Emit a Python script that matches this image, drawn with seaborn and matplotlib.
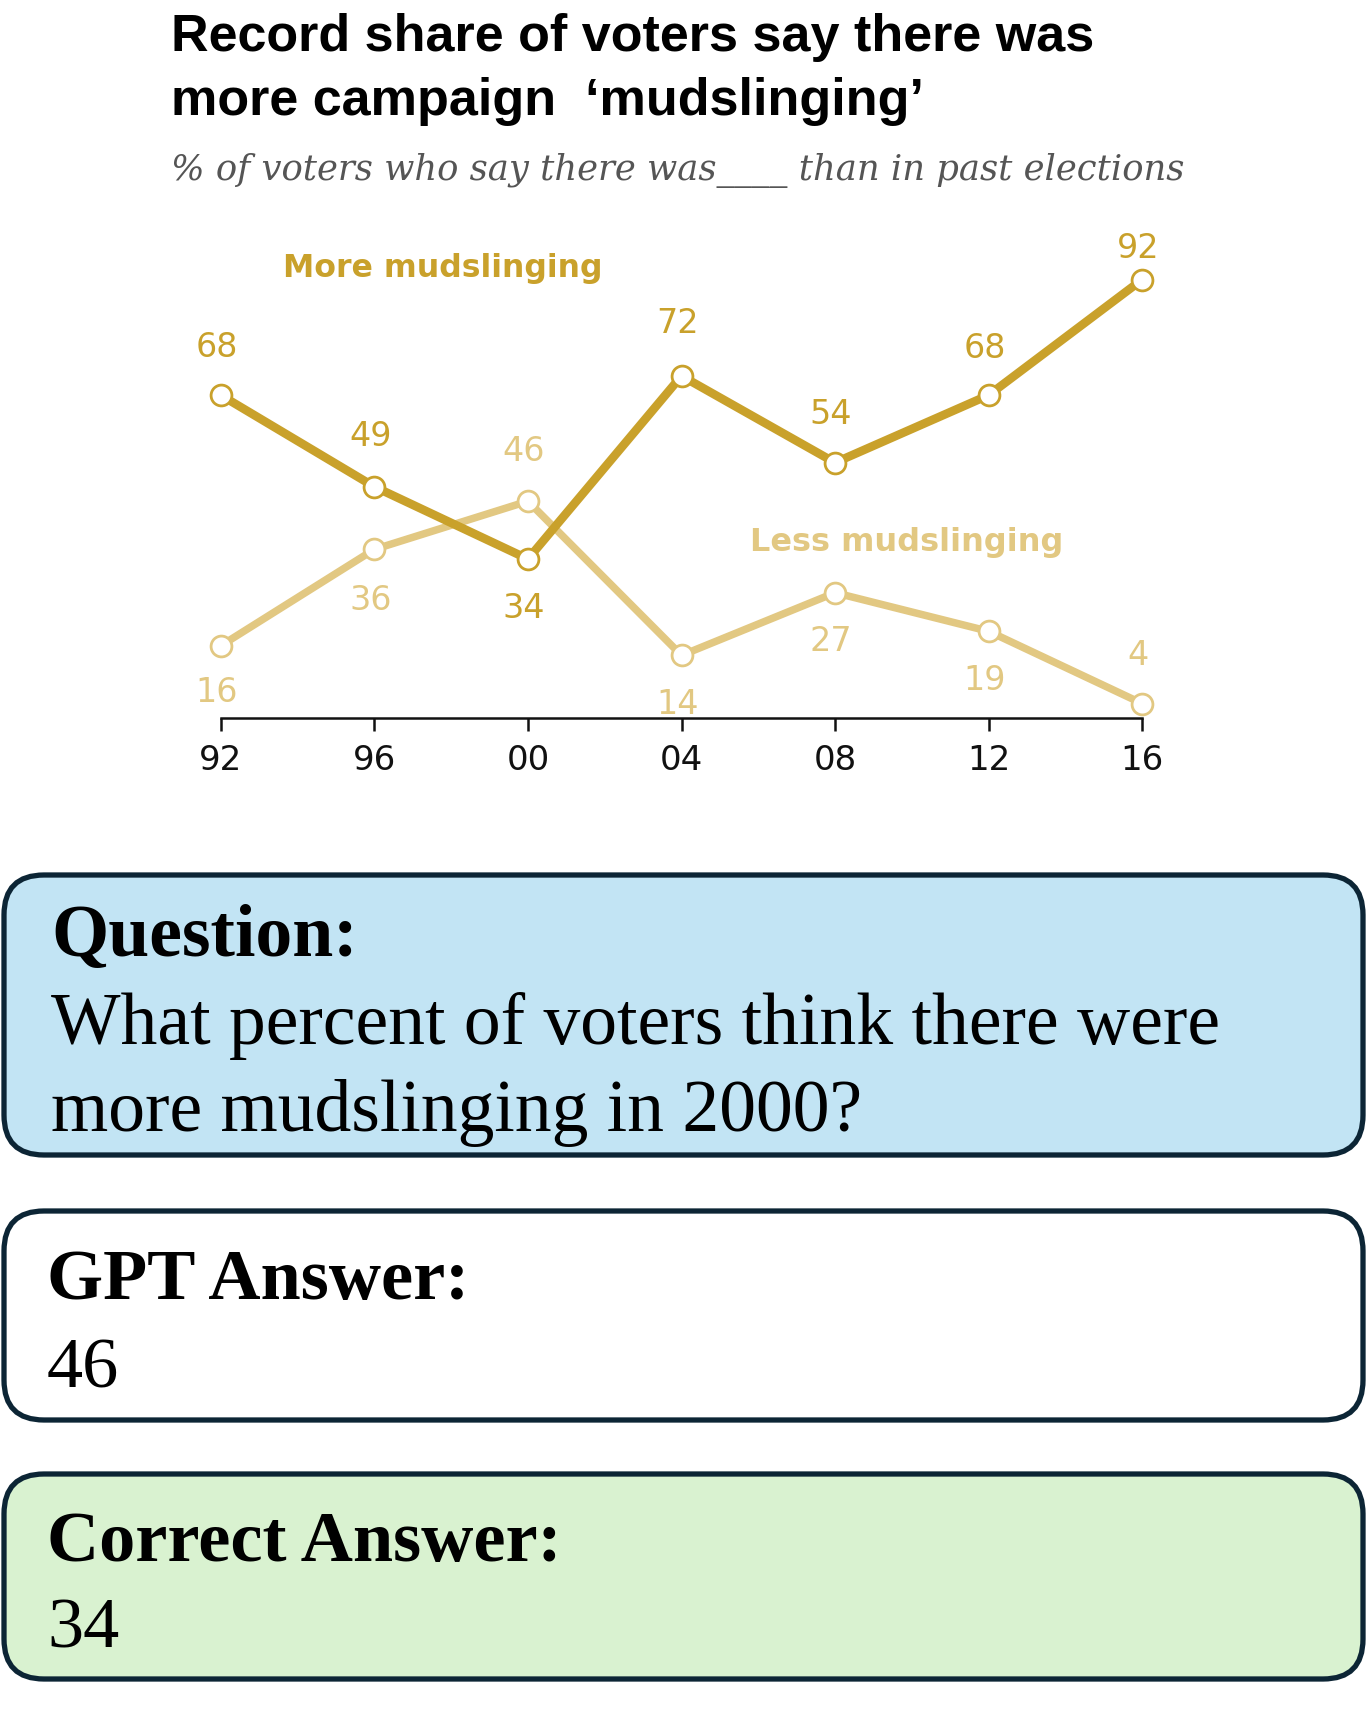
import numpy as np
import pandas as pd
import matplotlib
matplotlib.use("Agg")
import matplotlib.pyplot as plt
import seaborn as sns
from matplotlib.patches import FancyBboxPatch

# chart data
years = [1992, 1996, 2000, 2004, 2008, 2012, 2016]
year_labels = ["92", "96", "00", "04", "08", "12", "16"]
more_mud = [68, 49, 34, 72, 54, 68, 92]
less_mud = [16, 36, 46, 14, 27, 19, 4]

title_lines = ["Record share of voters say there was", "more campaign  \u2018mudslinging\u2019"]
subtitle = "% of voters who say there was____ than in past elections"
question_lines = ["What percent of voters think there were", "more mudslinging in 2000?"]
gpt_answer = "46"
correct_answer = "34"

sns.set_theme(style="white")
plt.rcParams['font.family'] = ['Liberation Sans', 'DejaVu Sans']

more_col = "#C9A12B"
less_col = "#E2C882"
border = "#0C2535"

W, H = 1367, 1709
fig = plt.figure(figsize=(W / 100, H / 100), dpi=100)

# overlay in pixel coords for boxes and text
bg = fig.add_axes([0, 0, 1, 1])
bg.set_xlim(0, W)
bg.set_ylim(H, 0)
bg.axis("off")

# chart axes: 92 at x=221, 16 at x=1142, y=0 near y=722
ax = fig.add_axes([144 / W, 1 - 718 / H, 1075 / W, 477 / H])
df = pd.DataFrame({"year": years, "more": more_mud, "less": less_mud})

sns.lineplot(data=df, x="year", y="less", ax=ax, color=less_col, lw=5.4,
             marker="o", markersize=15, markerfacecolor="white",
             markeredgecolor=less_col, markeredgewidth=2, zorder=2, clip_on=False)
sns.lineplot(data=df, x="year", y="more", ax=ax, color=more_col, lw=6.2,
             marker="o", markersize=15, markerfacecolor="white",
             markeredgecolor=more_col, markeredgewidth=2, zorder=3, clip_on=False)

ax.set_xlim(1990, 2018)
ax.set_ylim(1, 100)
ax.set_xlabel("")
ax.set_ylabel("")
ax.set_yticks([])
ax.set_xticks(years)
ax.set_xticklabels(year_labels, family="DejaVu Sans", fontsize=24.5, color="#111111")
for s in ["left", "right", "top"]:
    ax.spines[s].set_visible(False)
ax.spines["bottom"].set_bounds(1992, 2016)
ax.spines["bottom"].set_color("#111111")
ax.spines["bottom"].set_linewidth(1.8)
ax.tick_params(axis="x", direction="out", length=9, width=1.8, color="#111111",
               pad=10, bottom=True)
ax.patch.set_alpha(0)

# value labels (vertical offsets in px)
more_off = [-48, -50, 49, -52, -48, -47, -31]
less_off = [47, 51, -50, 49, 49, 49, -48]
for x, v, o in zip(years, more_mud, more_off):
    ax.annotate(str(v), (x, v), xytext=(-3, -o * 0.72), textcoords="offset points",
                ha="center", va="center", fontsize=24, color=more_col,
                family="DejaVu Sans")
for x, v, o in zip(years, less_mud, less_off):
    ax.annotate(str(v), (x, v), xytext=(-3, -o * 0.72), textcoords="offset points",
                ha="center", va="center", fontsize=24, color=less_col,
                family="DejaVu Sans")

bg.text(283, 268, "More mudslinging", fontsize=22.7, fontweight="bold",
        color=more_col, va="center", ha="left", family="DejaVu Sans")
bg.text(750, 543, "Less mudslinging", fontsize=23, fontweight="bold",
        color=less_col, va="center", ha="left", family="DejaVu Sans")

# title & subtitle
bg.text(171, 38, title_lines[0], fontsize=37.5, fontweight="bold", color="#000000",
        va="center", ha="left")
bg.text(171, 101, title_lines[1], fontsize=37.5, fontweight="bold", color="#000000",
        va="center", ha="left")
bg.text(171, 171, subtitle, fontsize=25.5, style="italic", color="#555555",
        va="center", ha="left", family=["DejaVu Serif"])

# boxes
def box(y0, y1, fc):
    p = FancyBboxPatch((4, y0), W - 8, y1 - y0,
                       boxstyle="round,pad=0,rounding_size=40",
                       fc=fc, ec=border, lw=3.8)
    bg.add_patch(p)

box(875, 1155, "#C2E4F4")
box(1211, 1420, "#FFFFFF")
box(1474, 1679, "#D9F2D0")

serif = ["Liberation Serif", "DejaVu Serif"]
k = "#000000"
bg.text(51, 956, "Question:", fontsize=53, fontweight="bold", family=serif, va="baseline", color=k)
bg.text(51, 1044, question_lines[0], fontsize=53, family=serif, va="baseline", color=k)
bg.text(51, 1131, question_lines[1], fontsize=53, family=serif, va="baseline", color=k)
bg.text(47, 1299, "GPT Answer:", fontsize=52, fontweight="bold", family=serif, va="baseline", color=k)
bg.text(47, 1387, gpt_answer, fontsize=52, family=serif, va="baseline", color=k)
bg.text(47, 1561, "Correct Answer:", fontsize=52, fontweight="bold", family=serif, va="baseline", color=k)
bg.text(47, 1648, correct_answer, fontsize=52, family=serif, va="baseline", color=k)

fig.savefig("out.png", dpi=100)
